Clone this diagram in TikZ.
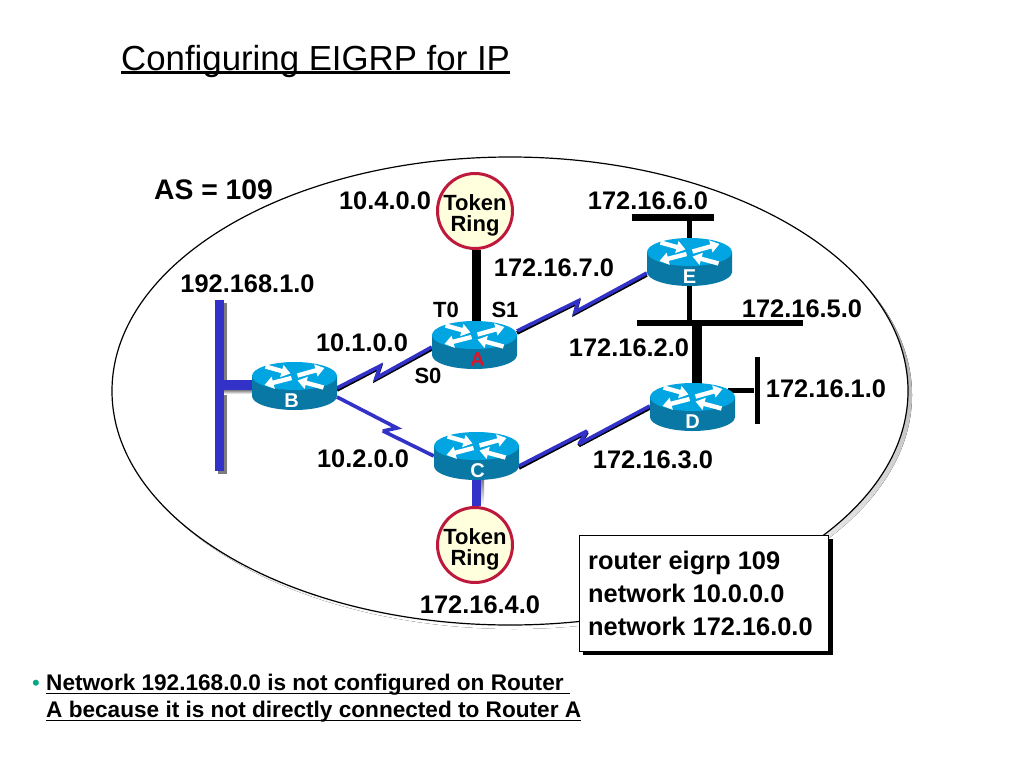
\documentclass[tikz,border=0pt]{standalone}
\usepackage{fontspec}
\usetikzlibrary{arrows.meta}
\setmainfont{Liberation Sans}
\definecolor{linkblue}{RGB}{50,50,200}
\definecolor{routertop}{RGB}{0,165,225}
\definecolor{routerside}{RGB}{10,120,165}
\definecolor{ringred}{RGB}{190,25,60}
\definecolor{ringfill}{RGB}{255,255,222}
\definecolor{shade}{RGB}{125,125,125}
\definecolor{bullet}{RGB}{0,170,130}
\definecolor{routerred}{RGB}{220,20,40}
\newcommand{\ulbox}[3][-3.4pt]{\setbox0\hbox{#3}\rlap{\rule[#1]{\wd0}{#2}}\box0}
\newcommand{\routerart}[4]{%
 \begin{scope}[shift={(#1.center)},yshift=10pt]
  \fill[routerside] (-42.5,0) -- (-42.5,20) arc[x radius=42.5,y radius=14,start angle=180,end angle=0] -- (42.5,0) -- cycle;
  \fill[routertop] (0,0) ellipse[x radius=42.5,y radius=14];
  \draw[routerarrow] (-29,-9.5) -- (-4,-2.5);
  \draw[routerarrow] (3,-0.5) -- (30,-8);
  \draw[routerarrow] (-3,2) -- (-30,9);
  \draw[routerarrow] (29,11.5) -- (3,4.5);
 \end{scope}
 \node[routerlabel,text=#3] at ([xshift=#4,yshift=10pt]#1.south) {#2};}
\tikzset{
 x=1pt,y=-1pt,
 lbl/.style={font=\bfseries\fontsize{25.4}{25.4}\selectfont,inner sep=0pt,text=black},
 smalllbl/.style={font=\bfseries\fontsize{22}{22}\selectfont,inner sep=0pt,text=black},
 routerbox/.style={minimum width=85pt,minimum height=48pt,inner sep=0pt},
 routerlabel/.style={font=\bfseries\fontsize{20}{20}\selectfont,inner sep=0pt},
 routerarrow/.style={white,line width=4.4pt,-{Triangle[length=9pt,width=12pt]}},
 serial/.style={line width=3.6pt,linkblue,line join=miter,miter limit=3},
 serialshade/.style={line width=3.6pt,black,line join=miter,miter limit=3},
 ring/.style={circle,draw=ringred,line width=3pt,fill=ringfill,minimum size=75pt,inner sep=0pt},
 ringtext/.style={inner sep=0pt,align=center,font=\bfseries\fontsize{22}{21}\selectfont},
 blackbar/.style={fill=black},
 bluebar/.style={fill=linkblue},
 graybar/.style={fill=shade}
}
\begin{document}
\begin{tikzpicture}
\useasboundingbox (0,0) rectangle (1024,768);
\fill[white] (0,0) rectangle (1024,768);
% title
\node[anchor=west,inner sep=0pt,font=\fontsize{34.8}{34.8}\selectfont] (title) at (121,62) {\ulbox[-2.6pt]{2.4pt}{Configuring EIGRP for IP}};
% AS ellipse
\fill[shade] (514,395) ellipse[x radius=398,y radius=234];
\filldraw[draw=black,fill=white,line width=1.2pt] (510,391) ellipse[x radius=398,y radius=234];
% node places
\node[routerbox] (A) at (474.5,345) {};
\node[routerbox] (B) at (294.5,386) {};
\node[routerbox] (C) at (476.5,456) {};
\node[routerbox] (D) at (692.5,407) {};
\node[routerbox] (E) at (689.5,262) {};
\node[ring] (R1) at (475,211) {};
\node[ringtext] at ([yshift=-4.5pt]R1.center) {Token\\Ring};
\node[ring] (R2) at (475,545) {};
\node[ringtext] at ([yshift=-4.5pt]R2.center) {Token\\Ring};
\node[minimum width=82pt,minimum height=7pt,inner sep=0pt,blackbar] (bus6) at (673,217) {};
\node[minimum width=166pt,minimum height=6pt,inner sep=0pt,blackbar] (bus5) at (720,323) {};
\node[minimum width=5pt,minimum height=67pt,inner sep=0pt,blackbar] (bus1) at (757,390) {};
\node[minimum width=9pt,minimum height=171pt,inner sep=0pt,graybar] (busBs) at (222.5,388.5) {};
\node[minimum width=9pt,minimum height=171pt,inner sep=0pt,bluebar] (busB) at (219.5,385.5) {};
\coordinate (ab1) at (380,366);
\coordinate (ab2) at (376,378);
\coordinate (bc1) at (397,428);
\coordinate (bc2) at (383,431);
\coordinate (ae1) at (578,301);
\coordinate (ae2) at (575,312);
\coordinate (cd1) at (587,431);
\coordinate (cd2) at (579,444);
% links
\draw[serialshade] (337,390) -- ([shift={(0,1.5)}]ab1) -- ([shift={(0,1.5)}]ab2) -- (A.west|-0,349);
\draw[serial] (337,388) -- (ab1) -- (ab2) -- (A.west|-0,347);
\draw[serial] (337,397) -- (bc1) -- (bc2) -- (C.west|-0,456);
\draw[serialshade] (517,333) -- ([shift={(0,1.5)}]ae1) -- ([shift={(0,1.5)}]ae2) -- (E.west|-0,275);
\draw[serial] (517,331) -- (ae1) -- (ae2) -- (E.west|-0,273);
\draw[serialshade] (519,468) -- ([shift={(0,1.5)}]cd1) -- ([shift={(0,1.5)}]cd2) -- (D.west|-0,408);
\draw[serial] (519,466) -- (cd1) -- (cd2) -- (D.west|-0,406);
\draw[line width=9pt,black] ([xshift=1pt]R1.south) -- ([xshift=1.5pt]A.center|-0,325);
\draw[line width=5pt,black] (E.center|-bus6.south) -- (E.center|-0,240);
\draw[line width=5pt,black] (E.center|-0,285) -- (E.center|-bus5.north);
\draw[line width=10pt,black] (697,323) -- (697,386);
\draw[line width=5pt,black] (728,390) -- (bus1.west|-0,390);
\fill[shade] (224,390) rectangle (253,394);
\draw[line width=10pt,linkblue] (busB.east|-0,385) -- (B.west|-0,385);
\fill[shade] (481,480) rectangle (484,505);
\draw[line width=9pt,linkblue] (C.center|-0,479) -- (C.center|-R2.north);
% routers on top
\routerart{A}{A}{routerred}{3pt}
\routerart{B}{B}{white}{-3pt}
\routerart{C}{C}{white}{1pt}
\routerart{D}{D}{white}{0pt}
\routerart{E}{E}{white}{0pt}
% labels
\node[lbl,anchor=west,font=\bfseries\fontsize{28.3}{28.3}\selectfont] at (154,190) {AS = 109};
\node[lbl] at (385,201) {10.4.0.0};
\node[lbl] at (648,201) {172.16.6.0};
\node[lbl] at (554,268) {172.16.7.0};
\node[lbl] at (247.5,284) {192.168.1.0};
\node[lbl] at (802,309) {172.16.5.0};
\node[smalllbl] at (446,310) {T0};
\node[smalllbl] at (505,310) {S1};
\node[lbl] at (362,343) {10.1.0.0};
\node[lbl] at (629,348) {172.16.2.0};
\node[smalllbl] at (428,376) {S0};
\node[lbl] at (826,389) {172.16.1.0};
\node[lbl] at (363,459) {10.2.0.0};
\node[lbl] at (653,460) {172.16.3.0};
\node[lbl] at (480,605) {172.16.4.0};
% config box
\fill[black] (583,539) rectangle (833,655);
\draw[black,fill=white,line width=1pt] (579,535) rectangle (828,651);
\node[lbl,anchor=west] at (588,563) {router eigrp 109};
\node[lbl,anchor=west] at (588,593) {network 10.0.0.0};
\node[lbl,anchor=west] at (588,626) {network 172.16.0.0};
% note
\node[anchor=center,inner sep=0pt,text=bullet,font=\fontsize{22}{22}\selectfont] at (36,685) {•};
\node[anchor=west,inner sep=0pt,font=\bfseries\fontsize{22.6}{22.6}\selectfont] at (46,685) {\ulbox{1.6pt}{Network 192.168.0.0 is not configured on Router\ }};
\node[anchor=west,inner sep=0pt,font=\bfseries\fontsize{22.6}{22.6}\selectfont] at (46,712) {\ulbox{1.6pt}{A because it is not directly connected to Router A}};
\end{tikzpicture}
\end{document}
